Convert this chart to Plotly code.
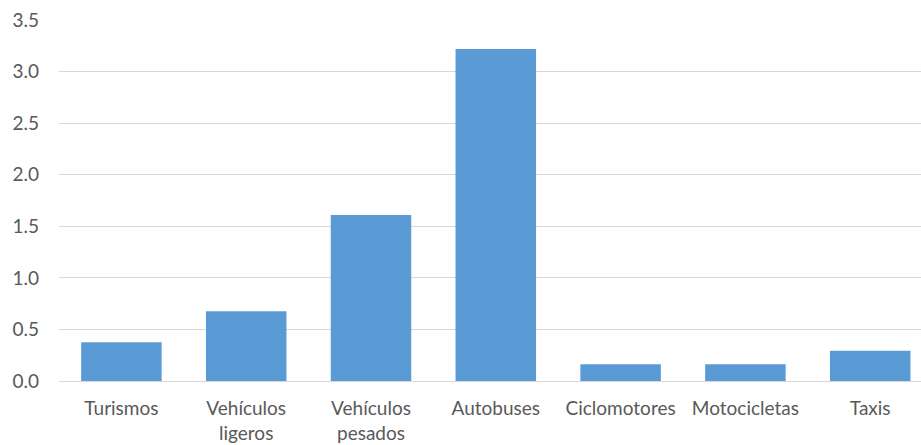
import plotly.graph_objects as go

categories = ["Turismos", "Vehículos<br>ligeros", "Vehículos<br>pesados", "Autobuses",
              "Ciclomotores", "Motocicletas", "Taxis"]
values = [0.375, 0.677, 1.61, 3.22, 0.162, 0.162, 0.294]
y_ticks = [0.0, 0.5, 1.0, 1.5, 2.0, 2.5, 3.0, 3.5]

fig = go.Figure(go.Bar(
    x=list(range(len(categories))), y=values,
    marker=dict(color="#5b9bd5", line=dict(width=0)),
    width=0.645,
))

font = dict(family="Lato, Open Sans, sans-serif", size=19, color="#595959")

fig.update_layout(
    width=921, height=445,
    margin=dict(l=59, r=0, t=20, b=64),
    paper_bgcolor="white", plot_bgcolor="white",
    showlegend=False,
    font=font,
    xaxis=dict(
        range=[-0.5, 6.407],
        tickmode="array", tickvals=list(range(len(categories))), ticktext=categories,
        showgrid=False, zeroline=False, showline=False, ticks="",
        tickangle=0, tickfont=font, fixedrange=True,
        ticklabelstandoff=14,
    ),
    yaxis=dict(
        range=[0, 3.5],
        tickmode="array", tickvals=y_ticks, tickformat=".1f",
        showgrid=True, gridcolor="#d9d9d9", gridwidth=1,
        zeroline=True, zerolinecolor="#d9d9d9", zerolinewidth=1,
        showline=False, ticks="", tickfont=font,
        ticklabelstandoff=19,
    ),
)

fig.write_html("out.html")
